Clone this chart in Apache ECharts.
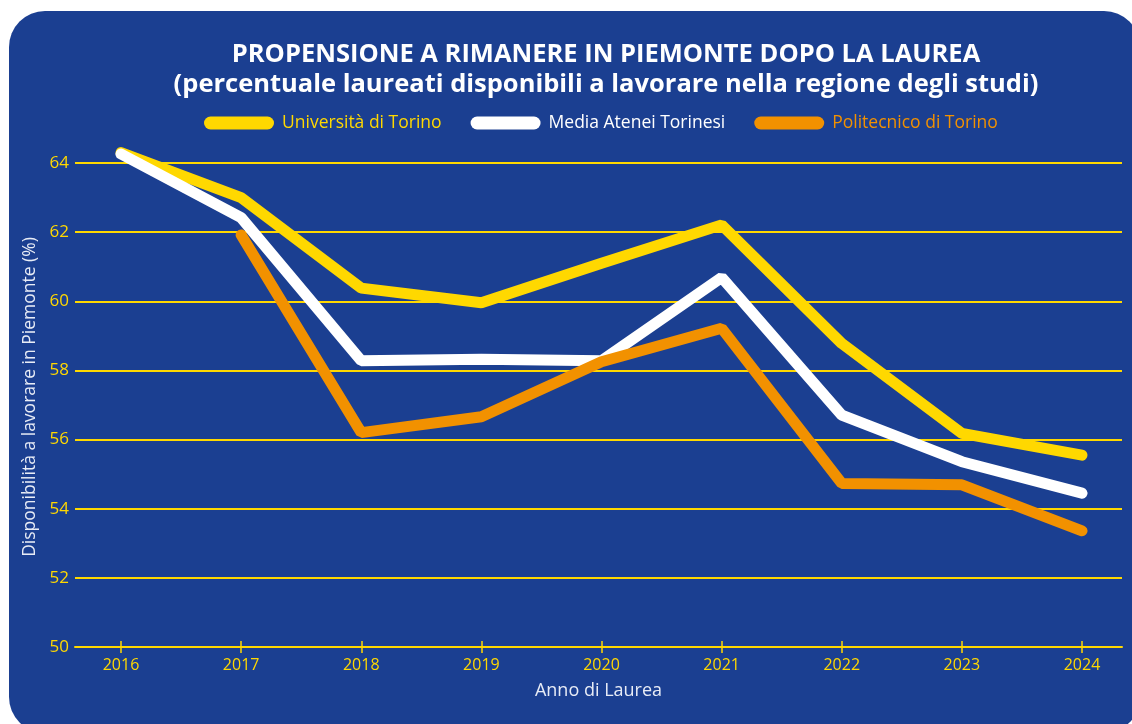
<!DOCTYPE html>
<html>
<head>
<meta charset="utf-8">
<title>Propensione a rimanere in Piemonte</title>
<script src="https://cdn.jsdelivr.net/npm/echarts@6/dist/echarts.min.js"></script>
<style>
  html, body { margin: 0; padding: 0; background: #ffffff; }
  #chart { width: 1132px; height: 724px; }
</style>
</head>
<body>
<div id="chart"></div>
<script>
// anni di laurea
const years = [2016, 2017, 2018, 2019, 2020, 2021, 2022, 2023, 2024];
const yTicks = [50, 52, 54, 56, 58, 60, 62, 64];

// valori (%)
const unito = [64.3, 63.0, 60.38, 59.96, 61.1, 62.21, 58.78, 56.18, 55.55];
const media = [64.26, 62.42, 58.28, 58.32, 58.28, 60.69, 56.71, 55.36, 54.45];
const polito = [null, 61.92, 56.2, 56.66, 58.25, 59.22, 54.73, 54.69, 53.36];

const names = ['Università di Torino', 'Media Atenei Torinesi', 'Politecnico di Torino'];
const colors = ['#FFD800', '#FFFFFF', '#F29100'];

const titleLines = [
    'PROPENSIONE A RIMANERE IN PIEMONTE DOPO LA LAUREA',
    '(percentuale laureati disponibili a lavorare nella regione degli studi)'
];

const bg = '#1B3F91';
const yellow = '#FFD800';
const font = 'Open Sans';

const pairs = (arr) => years.map((y, i) => [y, arr[i]]);

const chart = echarts.init(document.getElementById('chart'));

const series = [unito, media, polito].map((arr, i) => ({
    name: names[i],
    type: 'line',
    data: pairs(arr),
    xAxisIndex: 0,
    showSymbol: false,
    symbol: 'none',
    clip: false,
    connectNulls: false,
    lineStyle: {
        width: 11,
        color: colors[i],
        cap: 'round',
        join: 'bevel'
    },
    itemStyle: { color: colors[i] },
    emphasis: { disabled: true },
    z: 3 + i
}));

const pill = 'path://M6.5,0H63.5A6.5,6.5 0 0 1 63.5,13H6.5A6.5,6.5 0 0 1 6.5,0Z';

const xBase = {
    type: 'value',
    min: 2015.617,
    max: 2024.333,
    splitLine: { show: false }
};

const option = {
    animation: false,
    backgroundColor: 'transparent',
    graphic: [{
        type: 'rect',
        silent: true,
        z: -10,
        shape: { x: 9, y: 11, width: 1131, height: 722, r: 36 },
        style: { fill: bg }
    }],
    title: titleLines.map((t, i) => ({
        text: t,
        left: 601,
        textAlign: 'center',
        top: 37 + i * 30,
        textStyle: {
            color: '#FFFFFF',
            fontFamily: font,
            fontWeight: 'bold',
            fontSize: 25.5
        }
    })),
    legend: {
        top: 109,
        left: 199,
        itemWidth: 70,
        itemHeight: 13,
        itemGap: 29,
        icon: pill,
        data: names.map((n, i) => ({
            name: n,
            textStyle: { color: colors[i] }
        })),
        textStyle: {
            fontFamily: font,
            fontSize: 17.5,
            padding: [0, 0, 0, 3]
        },
        selectedMode: false
    },
    grid: {
        left: 75,
        right: 10,
        top: 163,
        bottom: 77,
        containLabel: false
    },
    xAxis: [
        Object.assign({}, xBase, {
            position: 'bottom',
            name: 'Anno di Laurea',
            nameLocation: 'middle',
            nameGap: 35,
            nameTextStyle: { color: '#E8ECF6', fontFamily: font, fontSize: 18 },
            axisLine: { show: true, lineStyle: { color: yellow, width: 2 } },
            axisTick: {
                show: true,
                length: 6,
                customValues: years,
                lineStyle: { color: yellow, width: 1.5 }
            },
            axisLabel: {
                color: yellow,
                fontFamily: font,
                fontSize: 16,
                margin: 10,
                customValues: years,
                formatter: (v) => String(v)
            }
        }),
        Object.assign({}, xBase, {
            position: 'bottom',
            axisLine: { show: false },
            axisTick: {
                show: true,
                inside: true,
                length: 6,
                customValues: years,
                lineStyle: { color: yellow, width: 1.5 }
            },
            axisLabel: { show: false }
        })
    ],
    yAxis: {
        type: 'value',
        min: 50,
        max: 64,
        interval: 2,
        name: 'Disponibilità a lavorare in Piemonte (%)',
        nameLocation: 'middle',
        nameGap: 30,
        nameTextStyle: {
            color: '#E8ECF6',
            fontFamily: font,
            fontSize: 17.5,
            padding: [0, 0, 0, 16]
        },
        axisLine: { show: false },
        axisTick: { show: false },
        axisLabel: {
            color: yellow,
            fontFamily: font,
            fontSize: 17,
            margin: 6
        },
        splitLine: { lineStyle: { color: yellow, width: 2 } }
    },
    series: series
};

chart.setOption(option);
</script>
</body>
</html>
